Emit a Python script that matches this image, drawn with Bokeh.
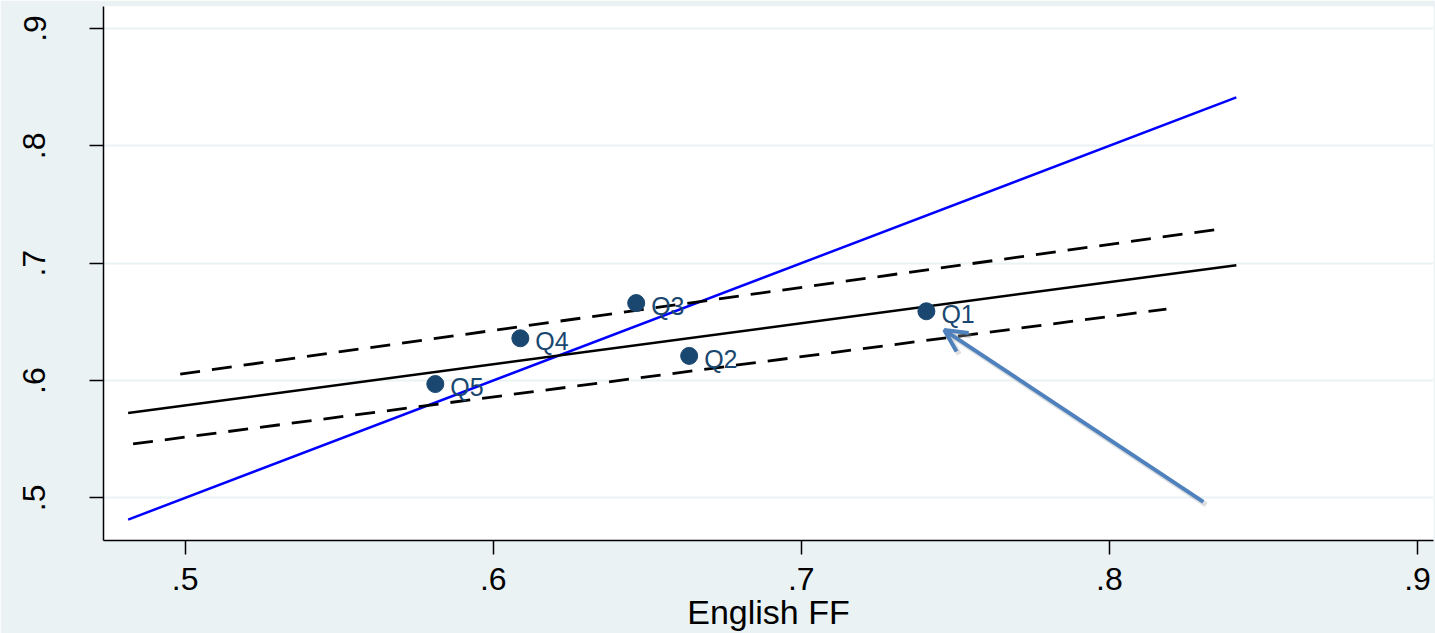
from bokeh.plotting import figure
from bokeh.models import Range1d, FixedTicker, Arrow, OpenHead, ColumnDataSource
from bokeh.embed import file_html
from bokeh.resources import INLINE

# Quintile means
quintiles = ["Q1", "Q2", "Q3", "Q4", "Q5"]
english_ff = [0.7406, 0.6636, 0.6464, 0.6088, 0.5812]
outcome = [0.659, 0.621, 0.666, 0.636, 0.597]

# Fitted line and confidence bounds (endpoints)
fit_x = [0.4815, 0.8412]
fit_y = [0.5723, 0.6983]
upper_x = [0.4984, 0.8377]
upper_y = [0.6055, 0.7298]
lower_x = [0.4831, 0.8185]
lower_y = [0.546, 0.6609]

# 45-degree reference line
diag = [0.4815, 0.8412]

# Axis ticks
ticks = [0.5, 0.6, 0.7, 0.8, 0.9]
tick_labels = [".5", ".6", ".7", ".8", ".9"]

# Annotation arrow pointing at Q1
arrow_tail = (0.8305, 0.4966)
arrow_tip = (0.7464, 0.643)

BG = "#EAF2F3"
NAVY = "#1a476f"
FONT = "Liberation Sans"

p = figure(width=1435, height=633, output_backend="svg", toolbar_location=None,
           x_range=Range1d(0.4735, 0.9052), y_range=Range1d(0.4637, 0.9187),
           min_border_left=103, min_border_right=2, min_border_top=6,
           min_border_bottom=92)
p.border_fill_color = BG
p.background_fill_color = "white"
p.outline_line_color = None

# grid
p.xgrid.grid_line_color = None
p.ygrid.grid_line_color = BG
p.ygrid.grid_line_width = 2
p.ygrid.ticker = FixedTicker(ticks=ticks)

overrides = {t: s for t, s in zip(ticks, tick_labels)}
for ax in (p.xaxis[0], p.yaxis[0]):
    ax.ticker = FixedTicker(ticks=ticks)
    ax.major_label_overrides = overrides
    ax.minor_tick_line_color = None
    ax.major_tick_in = 0
    ax.major_tick_out = 14
    ax.major_tick_line_width = 1.5
    ax.axis_line_width = 1.5
    ax.major_label_text_font = FONT
    ax.major_label_text_font_size = "32px"
    ax.major_label_text_color = "black"

p.xaxis.major_label_standoff = 13
p.yaxis.major_label_standoff = 44
p.yaxis.major_label_orientation = "vertical"

p.xaxis.axis_label = "English FF"
p.xaxis.axis_label_text_font = FONT
p.xaxis.axis_label_text_font_size = "34px"
p.xaxis.axis_label_text_font_style = "normal"
p.xaxis.axis_label_text_color = "black"
p.xaxis.axis_label_standoff = 0

# lines
p.line(diag, diag, line_color="#0000FF", line_width=2.5)
p.line(fit_x, fit_y, line_color="black", line_width=2.5)
p.line(upper_x, upper_y, line_color="black", line_width=2.8, line_dash="20 12")
p.line(lower_x, lower_y, line_color="black", line_width=2.8, line_dash="20 12")

# points with labels
src = ColumnDataSource(dict(x=english_ff, y=outcome, q=quintiles))
p.scatter("x", "y", source=src, size=17, fill_color=NAVY, line_color=NAVY)
p.text("x", "y", text="q", source=src, x_offset=15, y_offset=3,
       text_baseline="middle", text_align="left", text_color=NAVY,
       text_font_size="25px", text_font={"value": FONT})

# arrow with a soft shadow
p.add_layout(Arrow(x_start=arrow_tail[0] + 0.0009, y_start=arrow_tail[1] - 0.0025,
                   x_end=arrow_tip[0] + 0.0009, y_end=arrow_tip[1] - 0.0025,
                   line_color="#9aa0a6", line_alpha=0.35, line_width=5,
                   end=OpenHead(size=22, line_width=5, line_color="#9aa0a6",
                                line_alpha=0.35)))
p.add_layout(Arrow(x_start=arrow_tail[0], y_start=arrow_tail[1],
                   x_end=arrow_tip[0], y_end=arrow_tip[1],
                   line_color="#4F81BD", line_width=4,
                   end=OpenHead(size=22, line_width=4, line_color="#4F81BD")))

open("out.html", "w").write(file_html(p, INLINE))
